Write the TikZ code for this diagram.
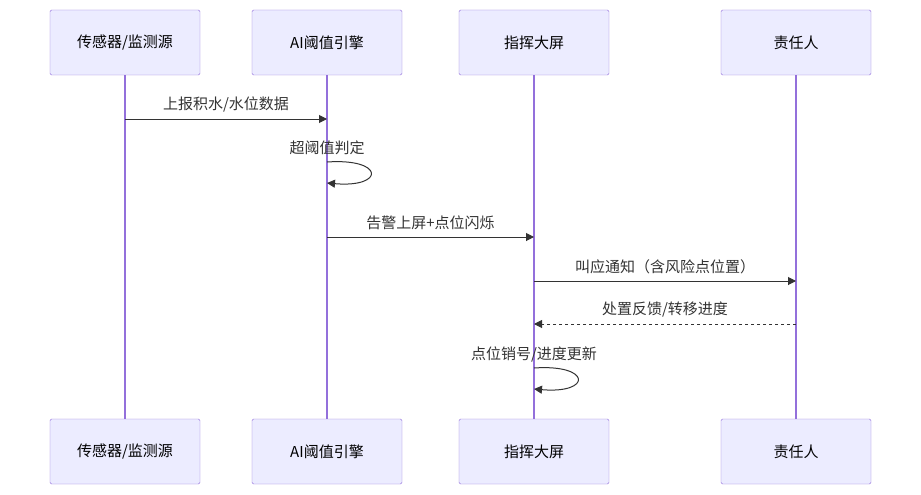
\documentclass[tikz,border=0pt]{standalone}
\usepackage{fontspec}
\setmainfont{Noto Sans CJK SC}
\usetikzlibrary{arrows.meta}
\definecolor{actfill}{HTML}{ECECFF}
\definecolor{actline}{HTML}{9370DB}
\definecolor{msg}{HTML}{333333}
\tikzset{
  actor/.style={draw=actline, fill=actfill, minimum width=150pt, minimum height=65pt, rounded corners=1.5pt, font=\fontsize{15pt}{17pt}\selectfont},
  life/.style={draw=actline, line width=1.2pt},
  call/.style={draw=msg, line width=1pt, -{Triangle[length=8pt,width=8pt]}},
  reply/.style={call, dash pattern=on 3pt off 3pt},
  lbl/.style={font=\fontsize{15pt}{17pt}\selectfont, text=msg}
}
\begin{document}
\begin{tikzpicture}[x=1pt, y=-1pt]
\useasboundingbox (0,0) rectangle (921,495);
% participants
\foreach \n/\x/\t in {sensor/125/{传感器/监测源}, engine/327/{AI阈值引擎}, screen/534/{指挥大屏}, owner/796/{责任人}}{
  \draw[life] (\x,75) -- (\x,419);
  \node[actor] (\n top) at (\x,42.5) {\t};
  \node[actor] (\n bot) at (\x,451.5) {\t};
}
% messages
\coordinate (m1a) at (125,119); \coordinate (m1b) at (327,119);
\draw[call] (m1a) -- node[lbl, above=3pt] {上报积水/水位数据} (m1b);
\node[lbl] at (327,148) {超阈值判定};
\draw[call] (327,162) .. controls (385,158) and (385,188) .. (327,183);
\coordinate (m2a) at (327,237); \coordinate (m2b) at (534,237);
\draw[call] (m2a) -- node[lbl, above=3pt] {告警上屏+点位闪烁} (m2b);
\coordinate (m3a) at (534,281); \coordinate (m3b) at (796,281);
\draw[call] (m3a) -- node[lbl, above=3pt] {叫应通知（含风险点位置）} (m3b);
\coordinate (m4a) at (796,324); \coordinate (m4b) at (534,324);
\draw[reply] (m4a) -- node[lbl, above=3pt] {处置反馈/转移进度} (m4b);
\node[lbl] at (534,354) {点位销号/进度更新};
\draw[call] (534,368) .. controls (592,364) and (592,394) .. (534,389);
\end{tikzpicture}
\end{document}
